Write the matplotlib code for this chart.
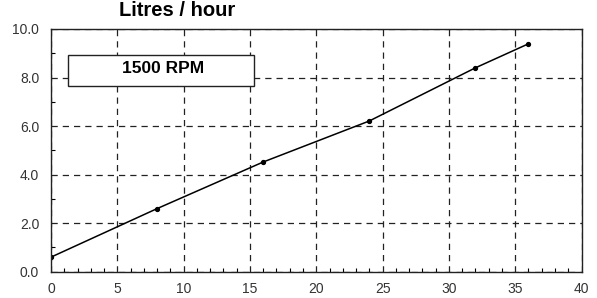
import matplotlib.pyplot as plt
from matplotlib.patches import Rectangle
from matplotlib.ticker import MultipleLocator, FormatStrFormatter

# Data
load = [0, 8, 16, 24, 32, 36]
litres_per_hour = [0.6, 2.6, 4.52, 6.21, 8.4, 9.39]

plt.rcParams['font.family'] = ['Liberation Sans', 'DejaVu Sans']

fig = plt.figure(figsize=(5.97, 2.98), dpi=100)
ax = fig.add_axes([51 / 597, 1 - 271.7 / 298, 530.5 / 597, 242.7 / 298])

ax.plot(load, litres_per_hour, color='black', linewidth=1.1,
        marker='o', markersize=2.8)

ax.set_xlim(0, 40)
ax.set_ylim(0, 10)
ax.xaxis.set_major_locator(MultipleLocator(5))
ax.xaxis.set_minor_locator(MultipleLocator(1))
ax.yaxis.set_major_locator(MultipleLocator(2))
ax.yaxis.set_minor_locator(MultipleLocator(1))
ax.yaxis.set_major_formatter(FormatStrFormatter('%.1f'))

ax.grid(True, which='major', color='#222222', linestyle=(0, (5, 4)), linewidth=0.9)
ax.tick_params(which='major', direction='in', length=0, labelsize=10, colors='#333333')
ax.tick_params(axis='x', which='major', pad=7.5)
ax.tick_params(axis='y', which='major', pad=8.5)
ax.tick_params(which='minor', direction='in', length=3, width=0.8, top=False, right=False)
for s in ax.spines.values():
    s.set_color('#222222')
    s.set_linewidth(1.0)

fig.text(177 / 597, 1 - 15.5 / 298, 'Litres / hour', ha='center', va='baseline',
         fontsize=14.5, fontweight='bold')

fig.patches.append(Rectangle((68 / 597, 1 - 86 / 298), 186 / 597, 31 / 298,
                             transform=fig.transFigure, facecolor='white',
                             edgecolor='#222222', linewidth=1.0, zorder=5))
fig.text(163 / 597, 1 - 73.3 / 298, '1500 RPM', ha='center', va='baseline',
         fontsize=12.5, fontweight='bold', zorder=6)

fig.savefig('out.png', dpi=100)
